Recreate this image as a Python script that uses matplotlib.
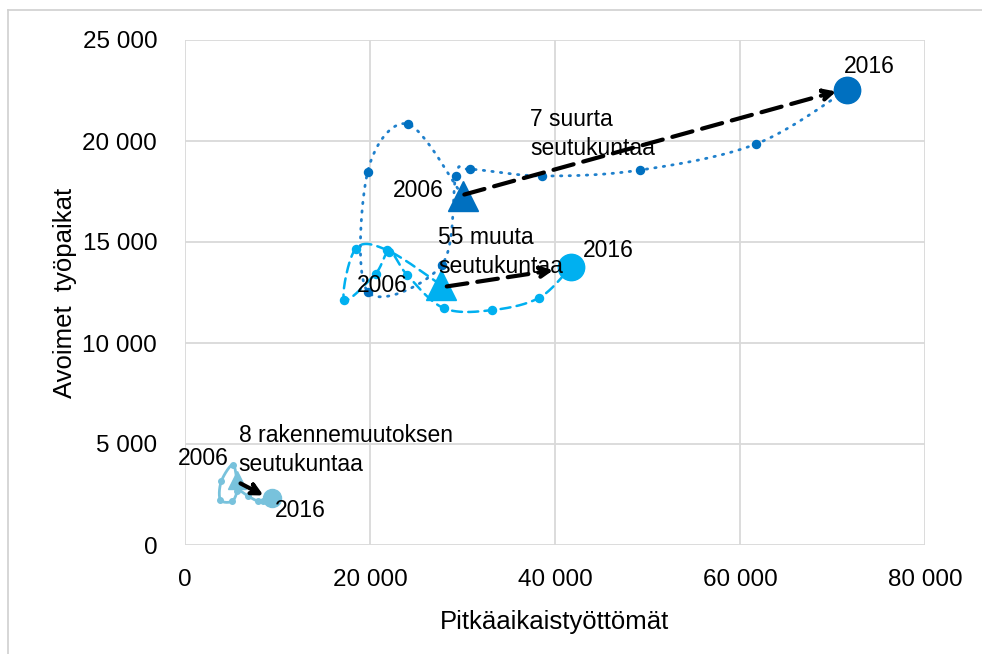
import numpy as np
import matplotlib
matplotlib.use("Agg")
import matplotlib.pyplot as plt
import matplotlib.ticker as mtick
from matplotlib.lines import Line2D

plt.rcParams['font.family'] = ['Liberation Sans', 'DejaVu Sans']

years = list(range(2006, 2017))

# 7 suurta seutukuntaa
big_x = [30000, 24080, 19750, 19750, 27750, 29300, 30800, 38560, 49190, 61730, 71530]
big_y = [17300, 20840, 18480, 12540, 13860, 18270, 18600, 18270, 18560, 19850, 22520]

# 55 muuta seutukuntaa
mid_x = [27700, 21890, 18450, 17220, 20600, 22100, 24050, 28000, 33220, 38300, 41690]
mid_y = [12870, 14590, 14670, 12130, 13430, 14520, 13350, 11720, 11630, 12240, 13750]

# 8 rakennemuutoksen seutukuntaa
small_x = [5620, 5150, 3920, 3820, 5080, 5620, 5300, 6860, 7940, 8400, 9400]
small_y = [3230, 3980, 3150, 2240, 2160, 2670, 2900, 2410, 2160, 2200, 2330]

xticks = [0, 20000, 40000, 60000, 80000]
yticks = [0, 5000, 10000, 15000, 20000, 25000]

c_big = '#0070C0'
c_mid = '#00B0F0'
c_small = '#78C2DC'


def smooth(xs, ys, n=30):
    # Excel-style smoothed line: cubic bezier, control points from neighbours
    p = np.column_stack([xs, ys]).astype(float)
    p = np.vstack([p[0], p, p[-1]])
    out = []
    t = np.linspace(0, 1, n)[:, None]
    for i in range(1, len(p) - 2):
        p0, p1 = p[i], p[i + 1]
        c1 = p0 + (p[i + 1] - p[i - 1]) / 6
        c2 = p1 - (p[i + 2] - p[i]) / 6
        seg = ((1 - t) ** 3) * p0 + 3 * ((1 - t) ** 2) * t * c1 + 3 * (1 - t) * t ** 2 * c2 + t ** 3 * p1
        out.append(seg)
    out = np.vstack(out)
    return out[:, 0], out[:, 1]


fig = plt.figure(figsize=(9.82, 6.54), dpi=100)
ax = fig.add_axes([185 / 982, 1 - 545 / 654, 740 / 982, 505 / 654])

# outer chart frame
fig.add_artist(Line2D([8 / 982, 8 / 982], [0, 1 - 10 / 654], color='#D0D0D0', lw=1.2))
fig.add_artist(Line2D([8 / 982, 1], [1 - 10 / 654, 1 - 10 / 654], color='#D0D0D0', lw=1.2))

series = [
    (big_x, big_y, '#1F80CC', (0, (0.5, 2.6)), 2.0, 5.8, 21, 19),
    (mid_x, mid_y, c_mid, (0, (4, 2.5)), 1.8, 5.8, 21, 19),
    (small_x, small_y, c_small, '-', 2.0, 4, 13, 13),
]
for xs, ys, col, ls, lw, ms, tri, circ in series:
    sx, sy = smooth(xs, ys)
    ax.plot(sx, sy, color=col, ls=ls, lw=lw, zorder=3, dash_capstyle='round')
    mcol = c_big if col == '#1F80CC' else col
    ax.plot(xs[1:-1], ys[1:-1], 'o', color=mcol, ms=ms, zorder=4)
    ax.plot(xs[0], ys[0], '^', color=mcol, ms=tri, zorder=5)
    ax.plot(xs[-1], ys[-1], 'o', color=mcol, ms=circ, zorder=5)

# arrows 2006 -> 2016
arrows = [
    ((30200, 17350), (70400, 22450), 3),
    ((28300, 12800), (39800, 13600), 3),
    ((6000, 3050), (8500, 2450), 3),
]
for (x0, y0), (x1, y1), lw in arrows:
    ax.annotate('', xy=(x1, y1), xytext=(x0, y0),
                arrowprops=dict(arrowstyle='-|>,head_length=0.7,head_width=0.35',
                                color='black', lw=lw, ls=(0, (5, 2.4)),
                                shrinkA=0, shrinkB=0), zorder=6)

fs = 16.5
ls_ = 1.3
ax.text(71200, 23700, '2016', fontsize=fs, va='center', ha='left', zorder=7)
ax.text(37300, 20350, '7 suurta\nseutukuntaa', fontsize=fs, va='center', ha='left', linespacing=ls_, zorder=7)
ax.text(28000, 17570, '2006', fontsize=fs, va='center', ha='right', zorder=7)
ax.text(27400, 14500, '55 muuta\nseutukuntaa', fontsize=fs, va='center', ha='left', linespacing=ls_, zorder=7)
ax.text(43000, 14600, '2016', fontsize=fs, va='center', ha='left', zorder=7)
ax.text(24100, 12870, '2006', fontsize=fs, va='center', ha='right', zorder=7)
ax.text(5800, 4700, '8 rakennemuutoksen\nseutukuntaa', fontsize=fs, va='center', ha='left', linespacing=ls_, zorder=7)
ax.text(4700, 4300, '2006', fontsize=fs, va='center', ha='right', zorder=7)
ax.text(9700, 1730, '2016', fontsize=fs, va='center', ha='left', zorder=7)

ax.set_xlim(0, 80000)
ax.set_ylim(0, 25000)
ax.set_xticks(xticks)
ax.set_yticks(yticks)
fmt = mtick.FuncFormatter(lambda v, p: f'{int(v):,}'.replace(',', ' '))
ax.xaxis.set_major_formatter(fmt)
ax.yaxis.set_major_formatter(fmt)
ax.tick_params(length=0, labelsize=17.5)
ax.tick_params(axis='x', pad=17)
ax.tick_params(axis='y', pad=20)
ax.grid(True, color='#D9D9D9', lw=1.3, zorder=0)
ax.set_axisbelow(True)
for s in ax.spines.values():
    s.set_visible(False)

ax.set_xlabel('Pitkäaikaistyöttömät', fontsize=18.5, labelpad=14)
ax.set_ylabel('Avoimet  työpaikat', fontsize=18.5, labelpad=4)

fig.savefig('out.png', dpi=100)
